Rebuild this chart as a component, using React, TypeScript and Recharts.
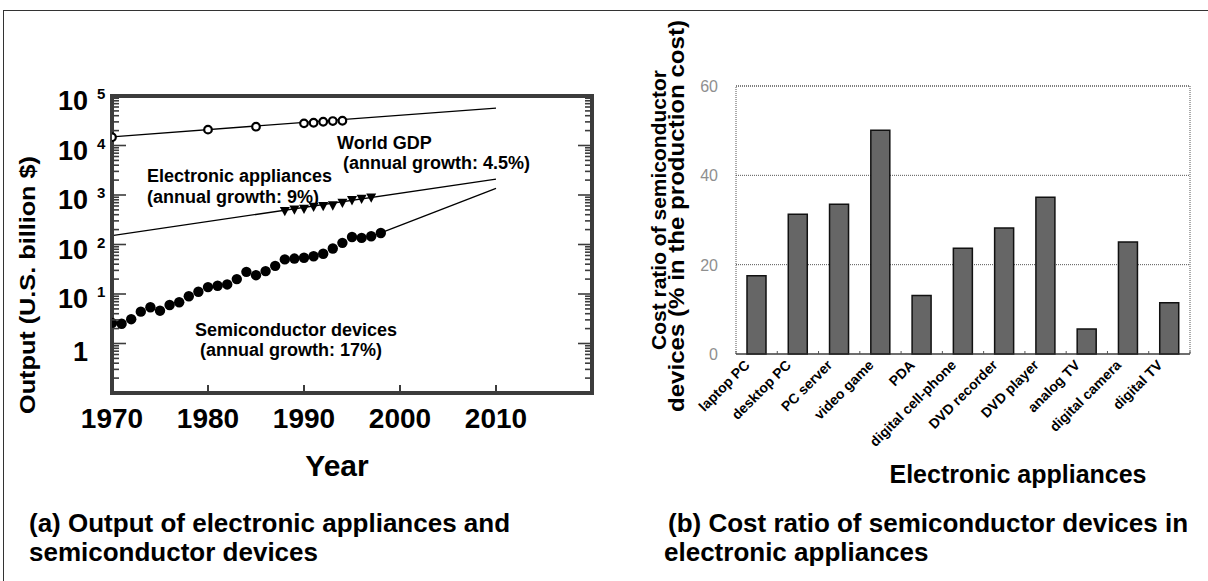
import React from 'react';
import {
  ComposedChart,
  Line,
  Scatter,
  XAxis,
  YAxis,
  BarChart,
  Bar,
  CartesianGrid,
  ReferenceArea,
} from 'recharts';

// ---------- Data: panel (a) ----------
const semiYears = [1970, 1971, 1972, 1973, 1974, 1975, 1976, 1977, 1978, 1979, 1980, 1981, 1982, 1983, 1984, 1985, 1986, 1987, 1988, 1989, 1990, 1991, 1992, 1993, 1994, 1995, 1996, 1997, 1998];
const semiValues = [2.6, 2.5, 3.1, 4.4, 5.4, 4.6, 6.0, 6.8, 9.0, 11.1, 13.8, 14.7, 15.6, 20, 28, 24, 29, 37, 50, 52, 54, 58, 65, 83, 108, 142, 136, 147, 171];
const applianceYears = [1988, 1989, 1990, 1991, 1992, 1993, 1994, 1995, 1996, 1997];
const applianceValues = [464, 500, 517, 567, 584, 603, 681, 770, 819, 871];
const gdpYears = [1970, 1980, 1985, 1990, 1991, 1992, 1993, 1994];
const gdpValues = [14700, 20900, 24000, 28000, 28800, 30200, 31200, 31600];
const gdpTrendYears = [1970, 2010];
const gdpTrendValues = [15000, 57000];
const applianceTrendYears = [1970, 2010];
const applianceTrendValues = [151, 2090];
const semiTrendYears = [1998, 2010];
const semiTrendValues = [171, 1360];
const yearTicks = [1970, 1980, 1990, 2000, 2010];
const decades = [0.1, 1, 10, 100, 1000, 10000, 100000];
const minorMultipliers = [2, 3, 4, 5, 6, 7, 8, 9];

// ---------- Data: panel (b) ----------
const appliances = ['laptop PC', 'desktop PC', 'PC server', 'video game', 'PDA', 'digital cell-phone', 'DVD recorder', 'DVD player', 'analog TV', 'digital camera', 'digital TV'];
const costRatios = [17.5, 31.3, 33.5, 50.1, 13.1, 23.7, 28.2, 35.1, 5.6, 25.1, 11.5];
const costTicks = [0, 20, 40, 60];

const zip = (xs: number[], ys: number[]) => xs.map((x, i) => ({ x, y: ys[i] }));
const semiData = zip(semiYears, semiValues);
const applianceData = zip(applianceYears, applianceValues);
const gdpData = zip(gdpYears, gdpValues);
const gdpTrend = zip(gdpTrendYears, gdpTrendValues);
const applianceTrend = zip(applianceTrendYears, applianceTrendValues);
const semiTrend = zip(semiTrendYears, semiTrendValues);
const logTicks: number[] = [];
decades.forEach((d, i) => {
  logTicks.push(d);
  if (i < decades.length - 1) minorMultipliers.forEach((m) => logTicks.push(+(d * m).toPrecision(3)));
});
const barData = appliances.map((name, i) => ({ name, v: costRatios[i] }));

const FONT = '"Liberation Sans", Arial, Helvetica, sans-serif';
const FRAME = '#3c3c3c';

const isMajor = (v: number) => Math.abs(Math.log10(v) - Math.round(Math.log10(v))) < 1e-6;

const LeftTick = (p: any) => {
  const v = p.payload.value;
  const major = isMajor(v);
  const exp = Math.round(Math.log10(v));
  const len = major ? 14 : 7;
  return (
    <g>
      <line x1={p.x} x2={p.x + len} y1={p.y} y2={p.y} stroke={FRAME} strokeWidth={1.6} />
      {major && exp === 0 && (
        <text x={p.x - 24} y={p.y + 17} textAnchor="end" fontFamily={FONT} fontWeight="bold" fontSize={27} fill="#000">1</text>
      )}
      {major && exp > 0 && (
        <g>
          <text x={p.x - 24} y={p.y + 14} textAnchor="end" fontFamily={FONT} fontWeight="bold" fontSize={27} fill="#000">10</text>
          <text x={p.x - 15} y={p.y + 3} textAnchor="start" fontFamily={FONT} fontWeight="bold" fontSize={15} fill="#000">{exp}</text>
        </g>
      )}
    </g>
  );
};

const RightTick = (p: any) => {
  const v = p.payload.value;
  const len = isMajor(v) ? 14 : 7;
  return <line x1={p.x} x2={p.x - len} y1={p.y} y2={p.y} stroke={FRAME} strokeWidth={1.6} />;
};

const BottomTick = (p: any) => (
  <g>
    <line x1={p.x} x2={p.x} y1={p.y} y2={p.y - 8} stroke={FRAME} strokeWidth={2} />
    <text x={p.x} y={p.y + 35} textAnchor="middle" fontFamily={FONT} fontWeight="bold" fontSize={28} fill="#000">{p.payload.value}</text>
  </g>
);

const TopTick = (p: any) => <line x1={p.x} x2={p.x} y1={p.y} y2={p.y + 8} stroke={FRAME} strokeWidth={2} />;

const filledDot = (p: any) => <circle cx={p.cx} cy={p.cy} r={5.2} fill="#000" />;
const openDot = (p: any) => <circle cx={p.cx} cy={p.cy} r={3.8} fill="#fff" stroke="#000" strokeWidth={2.2} />;
const downTri = (p: any) => (
  <path d={`M${p.cx - 5},${p.cy - 4.5} L${p.cx + 5},${p.cy - 4.5} L${p.cx},${p.cy + 4.8} Z`} fill="#000" />
);

const CostTick = (p: any) => (
  <text x={p.x - 18} y={p.y + 6} textAnchor="end" fontFamily={FONT} fontSize={16} fill="#8f8f8f">{p.payload.value}</text>
);

const ApplianceTick = (p: any) => {
  const half = (p.payload && p.payload.offset) || 0;
  const x = p.x - 6;
  const y = p.y + 12;
  const last = p.index === appliances.length - 1;
  return (
    <g>
      <line x1={p.x - half} x2={p.x - half} y1={p.y} y2={p.y - 3} stroke="#555" strokeWidth={1} />
      {last && <line x1={p.x + half} x2={p.x + half} y1={p.y} y2={p.y - 3} stroke="#555" strokeWidth={1} />}
      <text x={x} y={y} transform={`rotate(-45, ${x}, ${y})`} textAnchor="end" fontFamily={FONT} fontWeight="bold" fontSize={14} fill="#000">
        {p.payload.value}
      </text>
    </g>
  );
};

const Txt = (props: any) => <text fontFamily={FONT} fontWeight="bold" fill="#000" {...props} />;

const frameLine = { stroke: FRAME, strokeWidth: 4, strokeLinecap: 'square' };

export default function App() {
  return (
    <div style={{ position: 'fixed', left: 0, top: 0, width: 1208, height: 581, background: '#fff', overflow: 'hidden' }}>
      <div style={{ position: 'absolute', left: 3, top: 10, width: 1300, height: 700, borderTop: '1px solid #333', borderLeft: '1px solid #333' }} />
      <div style={{ position: 'absolute', left: 0, top: 0 }}>
        <ComposedChart width={600} height={480} margin={{ top: 95, right: 7, bottom: 86, left: 111 }}>
          <XAxis
            xAxisId="b"
            dataKey="x"
            type="number"
            domain={[1970, 2020]}
            allowDataOverflow
            ticks={yearTicks}
            interval={0}
            height={1}
            tickSize={0}
            tickMargin={0}
            tickLine={false}
            axisLine={frameLine}
            tick={BottomTick}
          />
          <XAxis
            xAxisId="t"
            orientation="top"
            type="number"
            domain={[1970, 2020]}
            allowDataOverflow
            ticks={yearTicks}
            interval={0}
            height={1}
            tickSize={0}
            tickMargin={0}
            tickLine={false}
            axisLine={frameLine}
            tick={TopTick}
          />
          <YAxis
            yAxisId="l"
            dataKey="y"
            type="number"
            scale="log"
            domain={[0.1, 100000]}
            allowDataOverflow
            ticks={logTicks}
            interval={0}
            width={1}
            tickSize={0}
            tickMargin={0}
            tickLine={false}
            axisLine={frameLine}
            tick={LeftTick}
          />
          <YAxis
            yAxisId="r"
            orientation="right"
            type="number"
            scale="log"
            domain={[0.1, 100000]}
            allowDataOverflow
            ticks={logTicks}
            interval={0}
            width={1}
            tickSize={0}
            tickMargin={0}
            tickLine={false}
            axisLine={frameLine}
            tick={RightTick}
          />
          <Line xAxisId="b" yAxisId="l" data={gdpTrend} dataKey="y" stroke="#000" strokeWidth={1.3} dot={false} isAnimationActive={false} />
          <Line xAxisId="b" yAxisId="l" data={applianceTrend} dataKey="y" stroke="#000" strokeWidth={1.3} dot={false} isAnimationActive={false} />
          <Line xAxisId="b" yAxisId="l" data={semiTrend} dataKey="y" stroke="#000" strokeWidth={1.3} dot={false} isAnimationActive={false} />
          <Scatter xAxisId="b" yAxisId="l" data={gdpData} dataKey="y" shape={openDot} isAnimationActive={false} />
          <Scatter xAxisId="b" yAxisId="l" data={applianceData} dataKey="y" shape={downTri} isAnimationActive={false} />
          <Scatter xAxisId="b" yAxisId="l" data={semiData} dataKey="y" shape={filledDot} isAnimationActive={false} />
        </ComposedChart>
      </div>

      <div style={{ position: 'absolute', left: 600, top: 0 }}>
        <BarChart width={608} height={500} data={barData} margin={{ top: 86, right: 18, bottom: 145, left: 135 }}>
          <CartesianGrid vertical={false} stroke="#555" strokeDasharray="1 1" />
          <ReferenceArea y1={0} y2={60} fill="none" stroke="#555" strokeDasharray="1 1" ifOverflow="visible" />
          <XAxis
            dataKey="name"
            interval={0}
            height={1}
            tickSize={0}
            tickMargin={0}
            tickLine={false}
            axisLine={{ stroke: '#333', strokeWidth: 1.2 }}
            tick={ApplianceTick}
          />
          <YAxis
            type="number"
            domain={[0, 60]}
            ticks={costTicks}
            interval={0}
            width={1}
            tickSize={0}
            tickMargin={0}
            tickLine={false}
            axisLine={false}
            tick={CostTick}
          />
          <Bar dataKey="v" fill="#666" stroke="#111" strokeWidth={1.5} barSize={19} isAnimationActive={false} />
        </BarChart>
      </div>

      <svg width={1208} height={581} style={{ position: 'absolute', left: 0, top: 0, pointerEvents: 'none' }}>
        <Txt x={35} y={285} fontSize={22} textAnchor="middle" textLength={258} lengthAdjust="spacingAndGlyphs" transform="rotate(-90, 35, 285)">Output (U.S. billion $)</Txt>
        <Txt x={337} y={476} fontSize={30} textAnchor="middle">Year</Txt>

        <Txt x={337} y={149} fontSize={18}>World GDP</Txt>
        <Txt x={343} y={169} fontSize={18}>(annual growth: 4.5%)</Txt>
        <Txt x={147} y={182} fontSize={18}>Electronic appliances</Txt>
        <Txt x={147} y={203} fontSize={18}>(annual growth: 9%)</Txt>
        <Txt x={195} y={336} fontSize={18}>Semiconductor devices</Txt>
        <Txt x={200} y={356} fontSize={18}>(annual growth: 17%)</Txt>

        <Txt x={666} y={210} fontSize={21} textAnchor="middle" transform="rotate(-90, 666, 210)">Cost ratio of semiconductor</Txt>
        <Txt x={684} y={216} fontSize={22} textAnchor="middle" textLength={392} lengthAdjust="spacingAndGlyphs" transform="rotate(-90, 684, 216)">devices (% in the production cost)</Txt>
        <Txt x={1018} y={483} fontSize={25} textAnchor="middle">Electronic appliances</Txt>

        <Txt x={29} y={532} fontSize={26}>(a) Output of electronic appliances and</Txt>
        <Txt x={29} y={561} fontSize={26}>semiconductor devices</Txt>
        <Txt x={668} y={532} fontSize={26}>(b) Cost ratio of semiconductor devices in</Txt>
        <Txt x={664} y={561} fontSize={26}>electronic appliances</Txt>
      </svg>
    </div>
  );
}
